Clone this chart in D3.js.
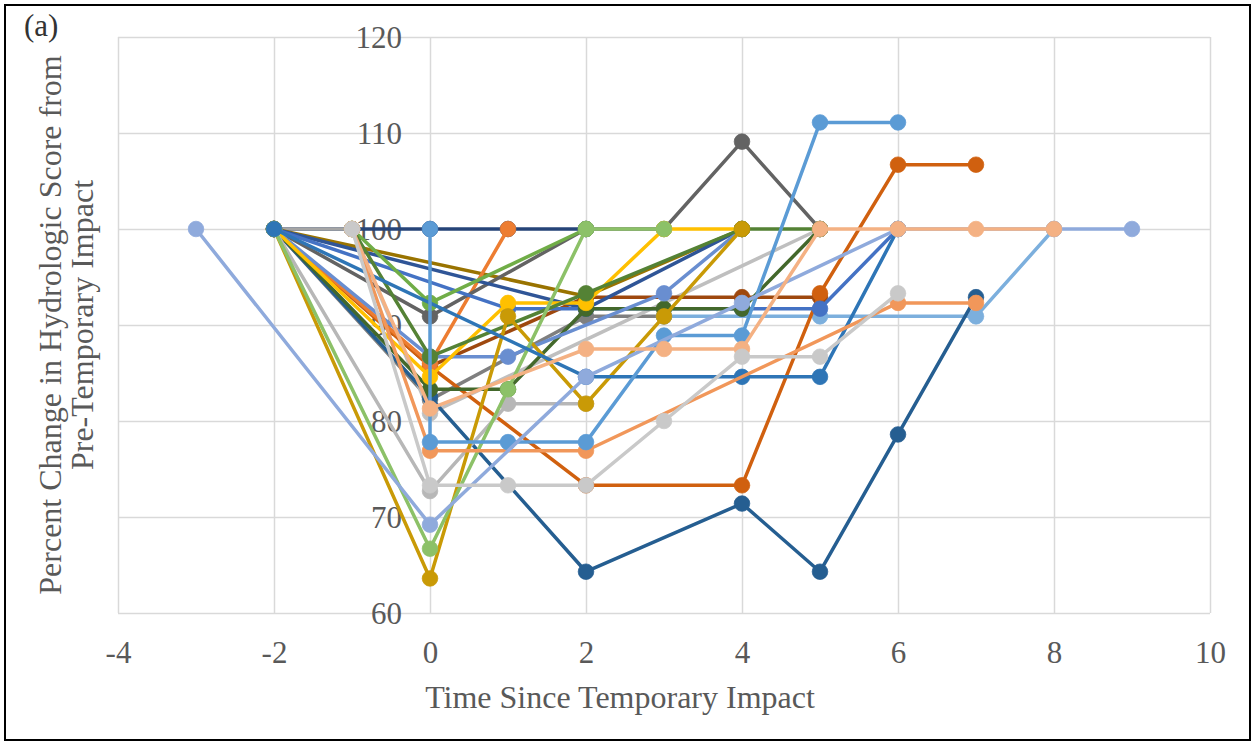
<!DOCTYPE html>
<html>
<head>
<meta charset="utf-8">
<script src="https://cdn.jsdelivr.net/npm/d3@7"></script>
<style>
  body { margin: 0; background: #fff; }
  text { font-family: "Liberation Serif", "Times New Roman", serif; }
</style>
</head>
<body>
<script>
// Chart size
const width = 1255
const height = 745

// Axis ticks
const xTicks = [-4, -2, 0, 2, 4, 6, 8, 10];
const yTicks = [60, 70, 80, 90, 100, 110, 120];

// Series, [time, percent] pairs (drawn in this order, later ones on top)
const siteNavy     = [[-2,100],[0,100],[1,100],[2,100]];
const siteGrayA    = [[-2,100],[-1,100]];
const siteGrayB    = [[-2,100],[0,82.2],[2,90.9],[3,90.9]];
const siteSkyA     = [[3,90.9],[5,90.9],[7,90.9],[8,100]];
const siteSilver   = [[-1,100],[0,80.8],[5,100]];
const siteOlive    = [[-2,100],[2,93.0],[4,100]];
const siteBrown    = [[-2,100],[0,85.7],[2,92.9],[4,92.9],[5,92.9]];
const siteRust     = [[-2,100],[0,85.7],[2,73.3],[4,73.3],[5,93.3],[6,106.7],[7,106.7]];
const siteOrange   = [[-2,100],[0,86.0],[1,100]];
const siteCharcoal = [[-2,100],[0,90.9],[2,100],[3,100],[4,109.1],[5,100]];
const siteIndigo   = [[-2,100],[2,91.7],[4,100]];
const siteBlue     = [[-2,100],[1,91.7],[2,91.7],[4,91.7],[5,91.7],[6,100]];
const siteSteel    = [[-2,100],[0,82.5],[2,64.3],[4,71.4],[5,64.3],[6,78.6],[7,92.9]];
const siteForest   = [[-2,100],[0,83.3],[1,83.3],[2,91.7],[3,91.7],[4,91.7],[5,100]];
const siteCobalt   = [[-2,100],[0,86.7],[1,86.7],[3,93.3],[4,100]];
const siteYellow   = [[-2,100],[0,84.6],[1,92.3],[2,92.3],[3,100],[4,100]];
const siteGreen    = [[-1,100],[0,92.3],[2,100]];
const siteMoss     = [[-1,100],[0,86.7],[2,93.3],[4,100],[5,100]];
const siteGrayC    = [[-2,100],[0,72.7],[1,81.8],[2,81.8]];
const siteGold     = [[-2,100],[0,63.6],[1,90.9],[2,81.8],[3,90.9],[4,100]];
const siteLime     = [[-2,100],[0,66.7],[1,83.3],[2,100],[3,100]];
const siteOcean    = [[-2,100],[2,84.6],[4,84.6],[5,84.6],[6,100]];
const siteCoral    = [[-1,100],[0,76.9],[2,76.9],[6,92.3],[7,92.3]];
const siteSkyB     = [[0,100],[0,77.8],[1,77.8],[2,77.8],[3,88.9],[4,88.9],[5,111.1],[6,111.1]];
const sitePeri     = [[-3,100],[0,69.2],[2,84.6],[4,92.3],[6,100],[8,100],[9,100]];
const sitePeach    = [[-1,100],[0,81.3],[2,87.5],[3,87.5],[4,87.5],[5,100],[6,100],[7,100],[8,100]];
const siteLtGray   = [[-1,100],[0,73.3],[1,73.3],[2,73.3],[3,80],[4,86.7],[5,86.7],[6,93.3]];

const seriesList = [siteNavy, siteGrayA, siteGrayB, siteSkyA, siteSilver, siteOlive, siteBrown,
  siteRust, siteOrange, siteCharcoal, siteIndigo, siteBlue, siteSteel, siteForest, siteCobalt,
  siteYellow, siteGreen, siteMoss, siteGrayC, siteGold, siteLime, siteOcean, siteCoral, siteSkyB,
  sitePeri, sitePeach, siteLtGray];

const seriesColors = ["#264478", "#A5A5A5", "#7F7F7F", "#7CAFDD", "#BFBFBF", "#997300", "#9E480E",
  "#D0600F", "#ED7D31", "#636363", "#2F5597", "#4472C4", "#255E91", "#43682B", "#698ED0",
  "#FFC000", "#70AD47", "#548235", "#B7B7B7", "#C99A06", "#8CC168", "#2E75B6", "#F1975A", "#5B9BD5",
  "#8FAADC", "#F4B183", "#C9C9C9"];

// Scales
const x = d3.scaleLinear().domain([-4, 10]).range([118, 1210]);
const y = d3.scaleLinear().domain([60, 120]).range([613, 37]);

const svg = d3.select("body")
  .append("svg")
  .attr("width", width)
  .attr("height", height);

// outer frame
svg.append("rect")
  .attr("x", 5).attr("y", 5)
  .attr("width", 1245).attr("height", 735)
  .attr("fill", "#fff")
  .attr("stroke", "#000")
  .attr("stroke-width", 2);

// vertical gridlines
svg.append("g")
  .attr("transform", `translate(0,${y(60)})`)
  .call(d3.axisBottom(x).tickValues(xTicks).tickSize(-(y(60) - y(120))).tickFormat(""))
  .call(g => g.select(".domain").remove())
  .selectAll("line").attr("stroke", "#D9D9D9").attr("stroke-width", 1.5);

// horizontal gridlines
svg.append("g")
  .attr("transform", `translate(${x(-4)},0)`)
  .call(d3.axisLeft(y).tickValues(yTicks).tickSize(-(x(10) - x(-4))).tickFormat(""))
  .call(g => g.select(".domain").remove())
  .selectAll("line").attr("stroke", "#D9D9D9").attr("stroke-width", 1.5);

// x tick labels
const xAxis = svg.append("g")
  .attr("transform", `translate(0,${y(60)})`)
  .call(d3.axisBottom(x).tickValues(xTicks).tickSize(0).tickFormat(d => String(d)));
xAxis.select(".domain").remove();
xAxis.selectAll("text")
  .attr("y", 39).attr("dy", "0.35em")
  .attr("font-size", 31).attr("fill", "#595959")
  .attr("font-family", "Liberation Serif, serif");

// y tick labels, sitting on the x = 0 axis
const yAxis = svg.append("g")
  .attr("transform", `translate(${x(0)},0)`)
  .call(d3.axisLeft(y).tickValues(yTicks).tickSize(0).tickFormat(d => String(d)));
yAxis.select(".domain").remove();
yAxis.selectAll("text")
  .attr("x", -28).attr("dy", "0.35em")
  .attr("font-size", 31).attr("fill", "#595959")
  .attr("font-family", "Liberation Serif, serif");

// series lines and markers
const line = d3.line().x(d => x(d[0])).y(d => y(d[1]));

seriesList.forEach((pts, i) => {
  const g = svg.append("g");
  g.append("path")
    .datum(pts)
    .attr("d", line)
    .attr("fill", "none")
    .attr("stroke", seriesColors[i])
    .attr("stroke-width", 3.5)
    .attr("stroke-linejoin", "round");
  g.selectAll("circle")
    .data(pts)
    .join("circle")
    .attr("cx", d => x(d[0]))
    .attr("cy", d => y(d[1]))
    .attr("r", 7.8)
    .attr("fill", seriesColors[i])
    .attr("stroke", seriesColors[i])
    .attr("stroke-width", 0.75);
});

// axis titles
svg.append("text")
  .attr("x", 620).attr("y", 697)
  .attr("dy", "0.35em")
  .attr("text-anchor", "middle")
  .attr("font-size", 32)
  .attr("fill", "#595959")
  .text("Time Since Temporary Impact");

const yTitle = svg.append("text")
  .attr("transform", "translate(50,325) rotate(-90)")
  .attr("text-anchor", "middle")
  .attr("font-size", 32)
  .attr("fill", "#595959");
yTitle.append("tspan").attr("x", 0).attr("dy", "0.35em").text("Percent Change in Hydrologic Score from");
yTitle.append("tspan").attr("x", 0).attr("dy", "1.0em").text("Pre-Temporary Impact");

// panel label
svg.append("text")
  .attr("x", 24).attr("y", 36)
  .attr("font-size", 31)
  .attr("fill", "#333")
  .text("(a)");
</script>
</body>
</html>
